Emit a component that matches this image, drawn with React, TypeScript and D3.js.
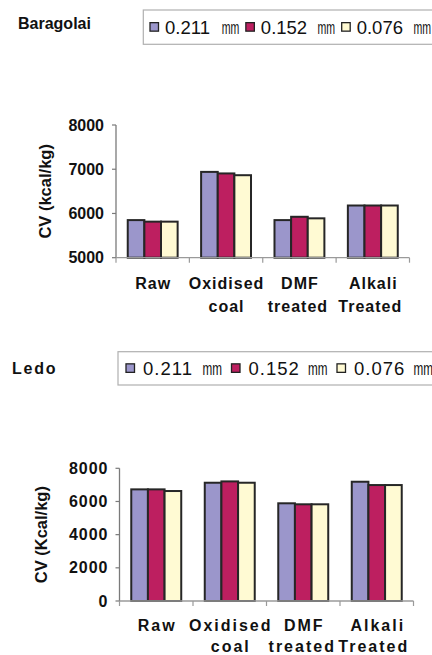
import React from "react";
import * as d3 from "d3";

const categories = ["Raw", "Oxidised coal", "DMF treated", "Alkali Treated"];
const seriesNames = ["0.211 mm", "0.152 mm", "0.076 mm"];
const seriesSizes = ["0.211", "0.152", "0.076"];
const colors = ["#9b96cb", "#bd1f60", "#fffad3"];

const baragolai211 = [5850, 6940, 5850, 6180];
const baragolai152 = [5815, 6905, 5925, 6180];
const baragolai076 = [5815, 6865, 5890, 6180];

const ledo211 = [6730, 7130, 5890, 7190];
const ledo152 = [6730, 7210, 5830, 6990];
const ledo076 = [6630, 7130, 5830, 6990];

const topTicks = [5000, 6000, 7000, 8000];
const bottomTicks = [0, 2000, 4000, 6000, 8000];

const topLabels = [["Raw"], ["Oxidised", "coal"], ["DMF", "treated"], ["Alkali", "Treated"]];
const bottomLabels = [["Raw"], ["Oxidised", "coal"], ["DMF", "treated"], ["Alkali", "Treated"]];

const FONT = "Liberation Sans, Arial, sans-serif";

function Legend({ bx, by, bh, sx, dn, dm, mw, step, ls }: any) {
  const base = by + bh / 2 + 6.5;
  return (
    <g fontFamily={FONT}>
      <rect x={bx} y={by} width={432 - bx + 20} height={bh} fill="#fff" stroke="#b0b0b0" strokeWidth={1.2} />
      {seriesNames.map((n, i) => {
        const x = sx + i * step;
        return (
          <g key={n}>
            <rect x={x} y={by + bh / 2 - 4.5} width={8.5} height={8.5} fill={colors[i]} stroke="#222" strokeWidth={1.3} />
            <text x={x + dn} y={base} fontSize={18.5} letterSpacing={ls} fill="#111">
              {seriesSizes[i]}
            </text>
            <text x={x + dm} y={base} fontSize={18.5} textLength={mw} lengthAdjust="spacingAndGlyphs" fill="#111">
              mm
            </text>
          </g>
        );
      })}
    </g>
  );
}

function BarChart({ data, domain, ticks, x0, x1, yBase, yTop, labels, labelY, lineH, ls, tickLs, yTitle, yTitleX, offs }: any) {
  const x = d3.scaleBand().domain(categories).range([x0, x1]).paddingInner(0.32).paddingOuter(0.16);
  const xs = d3.scaleBand().domain(seriesNames).range([0, x.bandwidth()]);
  const y = d3.scaleLinear().domain(domain).range([yBase, yTop]);
  const step = (x1 - x0) / categories.length;
  const midY = (yBase + yTop) / 2;
  return (
    <g fontFamily={FONT}>
      {categories.map((c, ci) =>
        seriesNames.map((s, si) => {
          const v = data[si][ci];
          return (
            <rect
              key={c + s}
              x={(x(c) as number) + (xs(s) as number)}
              y={y(v)}
              width={xs.bandwidth()}
              height={yBase - y(v)}
              fill={colors[si]}
              stroke="#262626"
              strokeWidth={2}
            />
          );
        })
      )}
      <line x1={x0} x2={x0} y1={yTop} y2={yBase} stroke="#7a7a7a" strokeWidth={1.3} />
      {ticks.map((t: number) => (
        <g key={t}>
          <line x1={x0 - 4} x2={x0} y1={y(t)} y2={y(t)} stroke="#7a7a7a" strokeWidth={1.2} />
          <text x={x0 - 12 + tickLs} y={y(t) + 5.5} textAnchor="end" fontSize={16} fontWeight="bold" letterSpacing={tickLs} fill="#111">
            {d3.format("d")(t)}
          </text>
        </g>
      ))}
      <line x1={x0} x2={x1} y1={yBase} y2={yBase} stroke="#9a9a9a" strokeWidth={1.3} />
      {d3.range(categories.length + 1).map((i) => (
        <line key={i} x1={x0 + i * step} x2={x0 + i * step} y1={yBase} y2={yBase + 5} stroke="#9a9a9a" strokeWidth={1.2} />
      ))}
      {categories.map((c, ci) => {
        const cx = (x(c) as number) + x.bandwidth() / 2;
        return labels[ci].map((l: string, li: number) => (
          <text
            key={c + li}
            x={cx + (li === 1 ? offs[ci] : 0) + ls / 2}
            y={labelY + li * lineH}
            textAnchor="middle"
            fontSize={16}
            fontWeight="bold"
            letterSpacing={ls}
            fill="#111"
          >
            {l}
          </text>
        ));
      })}
      <text
        transform={`translate(${yTitleX},${midY}) rotate(-90)`}
        textAnchor="middle"
        fontSize={16.5}
        fontWeight="bold"
        fill="#111"
      >
        {yTitle}
      </text>
    </g>
  );
}

export default function App() {
  return (
    <svg width={432} height={655} style={{ position: "absolute", left: 0, top: 0, background: "#fff" }}>
      <rect width={432} height={655} fill="#fff" />
      <text x={18} y={28.5} fontFamily={FONT} fontWeight="bold" fontSize={16} fill="#111">
        Baragolai
      </text>
      <Legend bx={143.3} by={10} bh={34.3} sx={150} dn={15} dm={71.7} mw={17.6} step={95.85} ls={0} />
      <BarChart
        data={[baragolai211, baragolai152, baragolai076]}
        domain={[5000, 8000]}
        ticks={topTicks}
        x0={116}
        x1={409.5}
        yBase={257.7}
        yTop={125}
        labels={topLabels}
        labelY={288.5}
        lineH={23.3}
        ls={1}
        tickLs={0}
        offs={[0, 0, -2, -3]}
        yTitle="CV (kcal/kg)"
        yTitleX={51}
      />
      <text x={12} y={373.5} fontFamily={FONT} fontWeight="bold" fontSize={16} letterSpacing={1.8} fill="#111">
        Ledo
      </text>
      <Legend bx={118} by={351.7} bh={33.3} sx={126} dn={17} dm={76.5} mw={19.5} step={105.5} ls={1} />
      <BarChart
        data={[ledo211, ledo152, ledo076]}
        domain={[0, 8000]}
        ticks={bottomTicks}
        x0={119.5}
        x1={413.5}
        yBase={601}
        yTop={468.3}
        labels={bottomLabels}
        labelY={630.7}
        lineH={21}
        ls={2}
        tickLs={1}
        offs={[0, 0, -2, -4]}
        yTitle="CV (Kcal/kg)"
        yTitleX={47}
      />
    </svg>
  );
}
